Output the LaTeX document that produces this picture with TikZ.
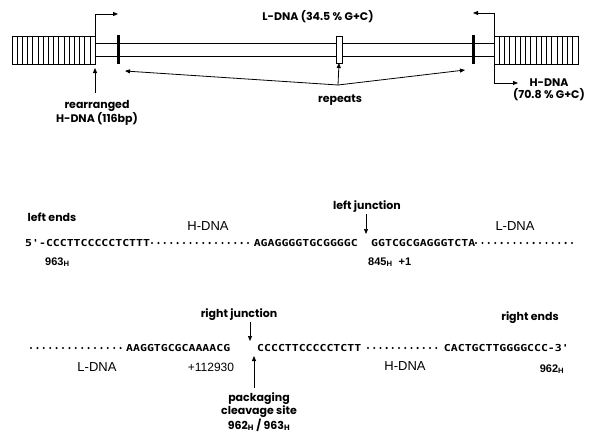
\documentclass[tikz,border=0pt]{standalone}
\usepackage{fontspec}
\setmainfont{Liberation Sans}
\newfontfamily\geo{Poppins}
\newfontfamily\seqf{DejaVu Sans Mono}[FakeStretch=1.2]
\usetikzlibrary{arrows.meta,calc}
\tikzset{
  geolab/.style={font=\geo\bfseries\fontsize{11}{11.5}\selectfont, inner sep=0pt, align=center},
  seqtxt/.style={font=\seqf\bfseries\fontsize{9.6}{10}\selectfont, inner sep=0pt},
  plainlab/.style={font=\fontsize{13}{14}\selectfont, inner sep=0pt},
  numlab/.style={font=\bfseries\fontsize{11}{12}\selectfont, inner sep=0pt},
  arr/.style={-{Triangle[length=5pt,width=4pt]}, line width=0.8pt},
  hbox/.style={draw, line width=0.9pt, inner sep=0pt, outer sep=0pt, minimum height=28pt},
  thickbar/.style={fill=black, inner sep=0pt, outer sep=0pt, minimum width=3pt, minimum height=29pt},
  openbar/.style={draw, fill=white, line width=0.8pt, inner sep=0pt, outer sep=0pt, minimum width=6pt, minimum height=27pt},
  dotm/.style={radius=1.15pt},
}
\begin{document}
\begin{tikzpicture}[x=1pt,y=-1pt]
\useasboundingbox (0,0) rectangle (591,436);

% ---------- top map ----------
\draw[line width=0.6pt] (95,43) -- (494,43);
\draw[line width=0.6pt] (95,56) -- (494,56);

\node[hbox, minimum width=83pt] (lbox) at (53.5,50) {};
\node[hbox, minimum width=84pt] (rbox) at (536,50) {};
\foreach \k in {1,...,15} {
  \draw[line width=0.6pt] ($(lbox.north west)+(\k*5.19,0)$) -- ($(lbox.south west)+(\k*5.19,0)$);
  \draw[line width=0.6pt] ($(rbox.north west)+(\k*5.25,0)$) -- ($(rbox.south west)+(\k*5.25,0)$);
}

\node[thickbar] (rep1) at (118,49.5) {};
\node[openbar]  (rep2) at (339,49.5) {};
\node[thickbar] (rep3) at (473,49.5) {};

% bent arrows
\coordinate (la) at (118,14);
\coordinate (ra) at (473,13);
\coordinate (rb) at (518,83);
\draw[arr] (lbox.north east) |- (la);
\draw[arr] (rbox.north west) |- (ra);
\draw[arr] (rbox.south west) |- (rb);

\node[geolab] (ldna) at (318,17) {L-DNA (34.5 \% G+C)};
\node[geolab] (hdna) at (549,90) {H-DNA\\(70.8 \% G+C)};

% rearranged
\node[geolab] (rearr) at (97,113) {rearranged\\H-DNA (116bp)};
\coordinate (rtip) at (95,68);
\coordinate (rtail) at (95,93);
\draw[arr] (rtail) -- (rtip);

% repeats
\node[geolab] (repl) at (340,100) {repeats};
\coordinate (apex) at (338,85);
\coordinate (t1) at (125,71);
\coordinate (t3) at (465,70);
\draw[arr] (apex) -- (t1);
\draw[arr] (apex) -- (t3);
\draw[arr] (apex) -- (rep2.south);

% ---------- row 1 ----------
\node[geolab] (lends) at (52,217) {left ends};
\node[plainlab] (h1) at (208,226) {H-DNA};
\node[geolab] (ljunc) at (367,207) {left junction};
\node[plainlab] (l1) at (515,226) {L-DNA};

\node[seqtxt, anchor=west] (s1) at (25,243) {5'-CCCTTCCCCCTCTTT};
\foreach \i in {0,...,15} \fill (152+\i*6.4,243) circle[dotm];
\node[seqtxt, anchor=east] (s2) at (358,243) {AGAGGGGTGCGGGGC};
\node[seqtxt, anchor=west] (s3) at (371,243) {GGTCGCGAGGGTCTA};
\foreach \i in {0,...,15} \fill (476+\i*6.4,243) circle[dotm];

\coordinate (lj1) at (366,214);
\coordinate (lj2) at (366,234);
\draw[arr, line width=0.7pt] (lj1) -- (lj2);

\node[numlab, anchor=west] (n963) at (45,262) {963\textsubscript{H}};
\node[numlab, anchor=west] (n845) at (368,262) {845\textsubscript{H}\ \ +1};

% ---------- row 2 ----------
\node[geolab] (rjunc) at (239,315) {right junction};
\node[geolab] (rends) at (530,318) {right ends};

\foreach \i in {0,...,14} \fill (31+\i*6.4,348) circle[dotm];
\node[seqtxt, anchor=west] (s4) at (126,348) {AAGGTGCGCAAAACG};
\node[seqtxt, anchor=west] (s5) at (257,348) {CCCCTTCCCCCTCTT};
\foreach \i in {0,...,11} \fill (368+\i*6.2,348) circle[dotm];
\node[seqtxt, anchor=east] (s6) at (569,348) {CACTGCTTGGGGCCC-3'};

\coordinate (rj1) at (250,322);
\coordinate (rj2) at (250,341);
\draw[arr, line width=0.7pt] (rj1) -- (rj2);

\node[plainlab] (l2) at (97,367) {L-DNA};
\node[font=\fontsize{12}{13}\selectfont, inner sep=0pt] (n112) at (211,367) {+112930};
\node[plainlab] (h2) at (405,366) {H-DNA};
\node[numlab] (n962) at (552,369) {962\textsubscript{H}};

\node[geolab, font=\geo\bfseries\fontsize{11}{13}\selectfont] (pack) at (259,412) {packaging\\cleavage site\\962\textsubscript{H} / 963\textsubscript{H}};
\coordinate (pk1) at (254,388);
\coordinate (pk2) at (254,356);
\draw[arr] (pk1) -- (pk2);
\end{tikzpicture}
\end{document}
